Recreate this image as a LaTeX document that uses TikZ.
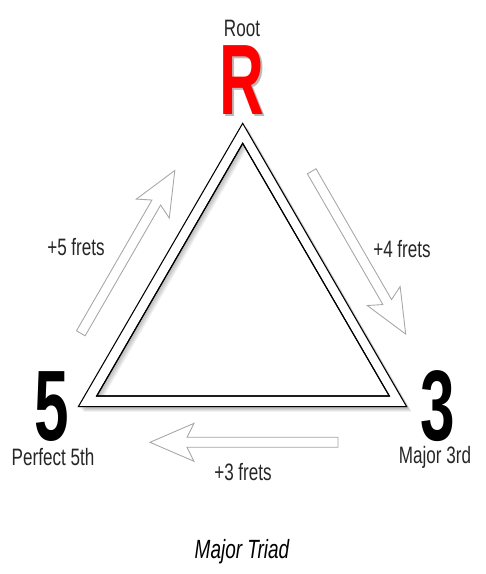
\documentclass[tikz,border=0pt]{standalone}
\usepackage{fontspec}
\setmainfont{Liberation Sans}[FakeStretch=0.72]
\newfontfamily\bignum{Liberation Sans}[FakeStretch=0.62]
\usetikzlibrary{calc}
\definecolor{rootred}{HTML}{FF0000}
\definecolor{arrowgray}{HTML}{A8A8A8}
\begin{document}
\begin{tikzpicture}[x=.02cm, y=-.02cm,
		word/.style={font=\fontsize{13.5}{16}\selectfont, text=black!85, inner sep=0pt},
		degree/.style={font=\bignum\bfseries\fontsize{57}{60}\selectfont, inner sep=0pt, anchor=base},
		band/.style={draw=black, line width=.6pt, fill=white},
		fret/.style={draw=arrowgray, line width=.5pt, fill=white},
		fretshape/.style={insert path={(0,-5) -- (151,-5) -- (144,-19) -- (188,0) -- (144,19) -- (151,5) -- (0,5) -- cycle}}]
	\useasboundingbox (0,0) rectangle (485,574);
	% triangle corners, outer and inner edge of the band
	\coordinate (o1) at (242.7,123.3);
	\coordinate (o2) at (78.3,406.7);
	\coordinate (o3) at (406.7,406.7);
	\coordinate (i1) at (242.7,143.3);
	\coordinate (i2) at (96.7,396);
	\coordinate (i3) at (389.3,396);
	% tails of the fret arrows
	\coordinate (up5) at (80.8,333.3);
	\coordinate (down4) at (311.7,171.3);
	\coordinate (back3) at (338,442.3);

	\foreach \d in {1,...,5}{
			\fill[black, opacity=.07] ($(o1)+(\d,\d)$) -- ($(o2)+(\d,\d)$) -- ($(o3)+(\d,\d)$) -- cycle;
		}
	\draw[band] (o1) -- (o2) -- (o3) -- cycle;
	\draw[band] (i1) -- (i2) -- (i3) -- cycle;
	\begin{scope}
		\clip (i1) -- (i2) -- (i3) -- cycle;
		\foreach \d in {1,...,5}{
				\fill[black, opacity=.06, even odd rule] (i1) -- (i2) -- (i3) -- cycle
				($(i1)+(.8*\d,1.2*\d)$) -- ($(i2)+(.8*\d,1.2*\d)$) -- ($(i3)+(.8*\d,1.2*\d)$) -- cycle;
			}
	\end{scope}
	\draw[black, line width=.6pt] (i1) -- (i2) -- (i3) -- cycle;

	\foreach \tail/\angle in {up5/60, down4/-60, back3/180}{
			\foreach \d in {1,...,3}{
					\begin{scope}[shift={(\d,\d)}]
						\fill[black, opacity=.05, shift={(\tail)}, rotate=\angle] [fretshape];
					\end{scope}
				}
			\draw[fret, shift={(\tail)}, rotate=\angle] [fretshape];
		}

	\node[degree, text=black!45, opacity=.6] at (244,117) {R};
	\node[degree, text=rootred] (root) at (242,115) {R};
	\node[degree] (fifth) at (51.5,440) {5};
	\node[degree] (third) at (438,440) {3};
	\node[word, anchor=base] (rootname) at (242,37) {Root};
	\node[word, anchor=base] (fifthname) at (53,465) {Perfect 5th};
	\node[word, anchor=base] (thirdname) at (435,463) {Major 3rd};
	\node[word] (step5) at (76,247) {+5 frets};
	\node[word] (step4) at (402,249) {+4 frets};
	\node[word, anchor=base] (step3) at (243,480) {+3 frets};
	\node[word, font=\fontsize{15}{18}\selectfont\itshape, text=black, anchor=base] (title) at (242,558) {Major Triad};
\end{tikzpicture}
\end{document}
